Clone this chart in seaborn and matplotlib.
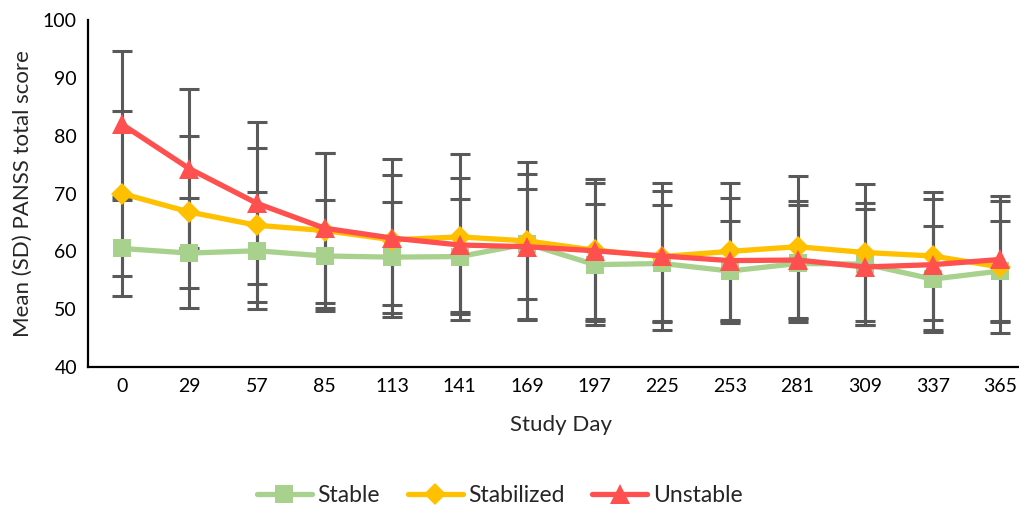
import numpy as np
import pandas as pd
import seaborn as sns
import matplotlib.pyplot as plt
from matplotlib.lines import Line2D

days = ["0", "29", "57", "85", "113", "141", "169", "197", "225", "253", "281", "309", "337", "365"]
groups = ["Stable", "Stabilized", "Unstable"]

stable_mean = [60.5, 59.7, 60.1, 59.2, 59.0, 59.1, 61.3, 57.7, 57.9, 56.6, 57.9, 57.8, 55.2, 56.6]
stable_sd = [8.3, 9.5, 10.1, 9.6, 9.6, 9.9, 9.5, 10.5, 10.1, 8.7, 10.1, 10.6, 9.2, 8.7]

stabilized_mean = [70.0, 66.8, 64.5, 63.6, 62.0, 62.5, 61.8, 60.2, 59.1, 60.0, 60.8, 59.8, 59.2, 57.3]
stabilized_sd = [14.3, 13.1, 13.3, 13.4, 11.2, 14.3, 13.7, 12.3, 12.7, 11.9, 12.3, 11.8, 11.1, 11.4]

unstable_mean = [82.0, 74.3, 68.3, 64.0, 62.3, 61.1, 60.8, 60.1, 59.2, 58.4, 58.5, 57.3, 57.7, 58.6]
unstable_sd = [12.6, 13.8, 14.0, 13.0, 13.7, 11.6, 12.5, 11.8, 11.2, 10.8, 10.2, 10.0, 11.3, 10.9]

colors = {"Stable": "#A9D18E", "Stabilized": "#FFC000", "Unstable": "#FF5050"}
markers = {"Stable": "s", "Stabilized": "D", "Unstable": "^"}
msizes = {"Stable": 13.5, "Stabilized": 11, "Unstable": 15}

df = pd.DataFrame({
    "day": days * 3,
    "group": np.repeat(groups, len(days)),
    "mean": stable_mean + stabilized_mean + unstable_mean,
    "sd": stable_sd + stabilized_sd + unstable_sd,
})

sns.set_style("white")
plt.rcParams["font.family"] = ["Lato", "DejaVu Sans"]

fig = plt.figure(figsize=(10.2, 5.07), dpi=100)
ax = fig.add_axes([0.0863, 0.2761, 0.9275, 0.6844])

# error bars under the lines
for g in groups:
    sub = df[df["group"] == g]
    ax.errorbar(sub["day"], sub["mean"], yerr=sub["sd"], fmt="none",
                ecolor="#595959", elinewidth=2.2, capsize=7, capthick=2.2, zorder=1)

n_before = len(ax.lines)
sns.lineplot(data=df, x="day", y="mean", hue="group", style="group",
             palette=colors, markers=markers, dashes=False, linewidth=3.8,
             ax=ax, legend=False, zorder=3)

for line, g in zip(ax.lines[n_before:], groups):
    line.set_markersize(msizes[g])
    line.set_markeredgecolor(colors[g])
    line.set_markeredgewidth(0)

ax.set_xlim(-0.5, len(days) - 0.5)
ax.set_ylim(40, 100)
ax.set_yticks(range(40, 101, 10))
ax.tick_params(axis="both", length=0, labelsize=14, colors="black", pad=8)
ax.set_xlabel("Study Day", fontsize=16, labelpad=14)
ax.set_ylabel("Mean (SD) PANSS total score", fontsize=16, labelpad=7)

for side in ["top", "right"]:
    ax.spines[side].set_visible(False)
for side in ["left", "bottom"]:
    ax.spines[side].set_color("black")
    ax.spines[side].set_linewidth(1.6)

handles = [Line2D([], [], color=colors[g], marker=markers[g], markersize=msizes[g],
                  markeredgewidth=0, linewidth=3.8) for g in groups]
fig.legend(handles, groups, loc="center", bbox_to_anchor=(0.49, 0.022), ncol=3,
           frameon=False, fontsize=16.5, handlelength=2.4, columnspacing=1.2,
           handletextpad=0.25, borderpad=0)

fig.savefig("out.png", dpi=100)
